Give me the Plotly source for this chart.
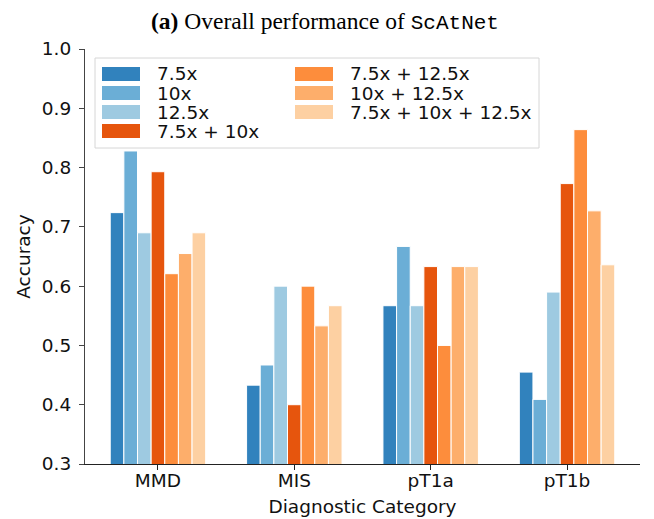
import plotly.graph_objects as go

categories = ["MMD", "MIS", "pT1a", "pT1b"]
series_names = ["7.5x", "10x", "12.5x", "7.5x + 10x", "7.5x + 12.5x", "10x + 12.5x", "7.5x + 10x + 12.5x"]
acc_7_5 = [0.724, 0.433, 0.567, 0.455]
acc_10 = [0.828, 0.467, 0.667, 0.409]
acc_12_5 = [0.690, 0.600, 0.567, 0.590]
acc_7_5_10 = [0.793, 0.400, 0.633, 0.773]
acc_7_5_12_5 = [0.621, 0.600, 0.500, 0.864]
acc_10_12_5 = [0.655, 0.533, 0.633, 0.727]
acc_all = [0.690, 0.567, 0.633, 0.636]
series_values = [acc_7_5, acc_10, acc_12_5, acc_7_5_10, acc_7_5_12_5, acc_10_12_5, acc_all]
colors = ["#3182bd", "#6baed6", "#9ecae1", "#e6550d", "#fd8d3c", "#fdae6b", "#fdd0a2"]
y_ticks = [0.3, 0.4, 0.5, 0.6, 0.7, 0.8, 0.9, 1.0]

# the page body has an 8px default margin; size the figure so it fits the window
OFF = 8
W, H = 654 - OFF, 519 - OFF
# plot area in page pixels: x 85..640, y 49..464
ML, MT = 85 - OFF, 49 - OFF
MR, MB = W - (640 - OFF), H - (464 - OFF)
PW, PH = W - ML - MR, H - MT - MB

def px_x(p):
    return (p - OFF - ML) / PW

def px_y(p):
    return (H - MB - (p - OFF)) / PH

fig = go.Figure()
for name, vals, col in zip(series_names, series_values, colors):
    fig.add_trace(go.Bar(
        x=categories, y=vals, name=name, showlegend=False,
        marker=dict(color=col, line=dict(color="white", width=1)),
    ))

font_main = "DejaVu Sans"
fs = 18.5

# legend (matplotlib-style, 2 columns, column-major)
shapes = [dict(type="rect", xref="paper", yref="paper",
               x0=px_x(95), x1=px_x(539), y0=px_y(148), y1=px_y(58),
               line=dict(color="#d6d6d6", width=1), fillcolor="rgba(255,255,255,0.8)", layer="above")]
annotations = []
rows_per_col = 4
col_sw_x = [102, 295]
col_tx_x = [155, 348]
row_y0, row_dy = 74, 19
for i, (name, col) in enumerate(zip(series_names, colors)):
    c, r = divmod(i, rows_per_col)
    cy = row_y0 + r * row_dy
    shapes.append(dict(type="rect", xref="paper", yref="paper",
                       x0=px_x(col_sw_x[c]), x1=px_x(col_sw_x[c] + 38),
                       y0=px_y(cy + 7), y1=px_y(cy - 7),
                       line=dict(width=0), fillcolor=col, layer="above"))
    annotations.append(dict(text=name, xref="paper", yref="paper",
                            x=px_x(col_tx_x[c]), y=px_y(cy), xanchor="left", yanchor="middle",
                            showarrow=False, font=dict(family=font_main, size=fs, color="#111")))

fig.update_layout(
    width=W, height=H,
    margin=dict(l=ML, r=MR, t=MT, b=MB, autoexpand=False),
    paper_bgcolor="white", plot_bgcolor="white",
    barmode="group", bargap=0.3, bargroupgap=0,
    title=dict(
        text=("<b>(a)</b> Overall performance of "
              "<span style='font-family:Liberation Mono;font-size:21px;font-weight:normal'>ScAtNet</span>"),
        x=(325 - OFF) / W, xref="container", xanchor="center",
        y=1 - (21 - OFF) / H, yref="container", yanchor="middle",
        font=dict(family="Liberation Serif", size=23.5, color="black"),
    ),
    showlegend=False,
    xaxis=dict(
        range=[-0.535, 3.535], showline=True, linecolor="#222", linewidth=1.2,
        ticks="outside", ticklen=5, tickcolor="#222", automargin=False,
        tickfont=dict(family=font_main, size=fs, color="#111"), ticklabelstandoff=-5,
        title=dict(text="Diagnostic Category", font=dict(family=font_main, size=fs, color="#111"), standoff=9),
        showgrid=False, zeroline=False,
    ),
    yaxis=dict(
        range=[0.3, 1.0], tickvals=y_ticks, ticktext=[f"{v:.1f}" for v in y_ticks],
        showline=True, linecolor="#444", linewidth=1.2,
        ticks="outside", ticklen=5, tickcolor="#444", automargin=False,
        tickfont=dict(family=font_main, size=fs, color="#111"), ticklabelstandoff=4,
        title=dict(text="Accuracy", font=dict(family=font_main, size=fs, color="#111"), standoff=6),
        showgrid=False, zeroline=False,
    ),
    shapes=shapes,
    annotations=annotations,
)
fig.write_html("out.html")
